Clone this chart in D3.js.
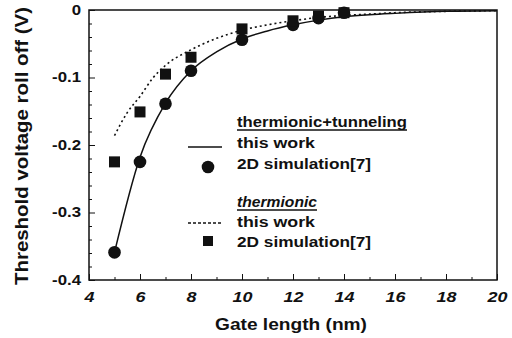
<!DOCTYPE html>
<html><head><meta charset="utf-8">
<script src="https://cdn.jsdelivr.net/npm/d3@7"></script>
<style>body{margin:0;background:#fff}svg{display:block}text{font-family:"Liberation Sans",Arial,sans-serif;font-weight:bold;fill:#111}</style>
</head><body><svg id="c" width="512" height="338"></svg>
<script>
const xTicks = [4,6,8,10,12,14,16,18,20];
const yTicks = [0,-0.1,-0.2,-0.3,-0.4];
const yTickLabels = ["0","-0.1","-0.2","-0.3","-0.4"];
// 2D simulation, thermionic+tunneling (circles)
const simTTx = [5,6,7,8,10,12,13,14];
const simTTy = [-0.359,-0.225,-0.139,-0.090,-0.044,-0.022,-0.012,-0.004];
// 2D simulation, thermionic (squares)
const simThx = [5,6,7,8,10,12,13,14];
const simThy = [-0.225,-0.151,-0.095,-0.070,-0.028,-0.016,-0.009,-0.004];
// this work, thermionic+tunneling (solid)
const modelTTx = [5,6,7,8,9,10,11,12,13,14,15,16,18,20];
const modelTTy = [-0.359,-0.218,-0.138,-0.090,-0.062,-0.043,-0.031,-0.022,-0.015,-0.010,-0.007,-0.005,-0.002,-0.001];
// this work, thermionic (dotted)
const modelThx = [5,5.5,6,6.5,7,8,9,10,11,12,13,14,15,16,18,20];
const modelThy = [-0.186,-0.152,-0.128,-0.101,-0.082,-0.059,-0.042,-0.030,-0.022,-0.016,-0.011,-0.008,-0.006,-0.004,-0.002,-0.001];

const svg = d3.select("#c");
const L=89,R=497,T=10,B=280;
const x = d3.scaleLinear().domain([4,20]).range([L,R]);
const y = d3.scaleLinear().domain([-0.4,0]).range([B,T]);
const g = svg.append("g");
function stretch(sel,k){ sel.each(function(){ const w=this.getComputedTextLength(); d3.select(this).attr("textLength",w*k).attr("lengthAdjust","spacingAndGlyphs"); }); }

// frame
g.append("rect").attr("x",L).attr("y",T).attr("width",R-L).attr("height",B-T)
 .attr("fill","none").attr("stroke","#111").attr("stroke-width",1.5);

// ticks (inward)
const xAx = d3.axisBottom(x).tickValues(xTicks).tickSize(-6).tickFormat(d=>d);
const gx = g.append("g").attr("transform",`translate(0,${B})`).call(xAx);
gx.select(".domain").remove();
gx.selectAll("line").attr("stroke","#111");
gx.selectAll("text").attr("y",22).attr("dy",null).attr("font-size",14).style("font-style","italic").attr("fill","#111");
const gxm = g.append("g").attr("transform",`translate(0,${B})`).call(d3.axisBottom(x).tickValues(d3.range(5,20,2)).tickSize(-3).tickFormat(""));
gxm.select(".domain").remove(); gxm.selectAll("line").attr("stroke","#111");

const yAx = d3.axisLeft(y).tickValues(yTicks).tickSize(-6).tickFormat((d,i)=>yTickLabels[i]);
const gy = g.append("g").attr("transform",`translate(${L},0)`).call(yAx);
gy.select(".domain").remove();
gy.selectAll("line").attr("stroke","#111");
gy.selectAll("text").attr("x",-8).attr("font-size",14).attr("fill","#111");
const gym = g.append("g").attr("transform",`translate(${L},0)`).call(d3.axisLeft(y).tickValues(d3.range(-0.38,0,0.02).filter(v=>Math.abs(v*10-Math.round(v*10))>0.01)).tickSize(-3).tickFormat(""));
gym.select(".domain").remove(); gym.selectAll("line").attr("stroke","#111");
[gx,gy].forEach(a=>a.selectAll("text").attr("font-family","Liberation Sans, Arial, sans-serif").attr("font-weight","bold"));
stretch(gx.selectAll("text"),1.28);
stretch(gy.selectAll("text"),1.2);

// lines
const line = d3.line().x(d=>x(d[0])).y(d=>y(d[1])).curve(d3.curveMonotoneX);
g.append("path").datum(modelTTx.map((v,i)=>[v,modelTTy[i]])).attr("d",line)
 .attr("fill","none").attr("stroke","#111").attr("stroke-width",1.5);
g.append("path").datum(modelThx.map((v,i)=>[v,modelThy[i]])).attr("d",line)
 .attr("fill","none").attr("stroke","#111").attr("stroke-width",1.6).attr("stroke-dasharray","2,3");

// markers
g.selectAll("circle.sim").data(simTTx.map((v,i)=>[v,simTTy[i]])).join("circle")
 .attr("cx",d=>x(d[0])).attr("cy",d=>y(d[1])).attr("r",6.3).attr("fill","#111");
g.selectAll("rect.sim").data(simThx.map((v,i)=>[v,simThy[i]])).join("rect")
 .attr("x",d=>x(d[0])-5.5).attr("y",d=>y(d[1])-5.5).attr("width",11).attr("height",11).attr("fill","#111");

// legend
const lg = g.append("g");
function txt(s,yy,len,fs,italic){
  const t = lg.append("text").attr("x",237).attr("y",yy).attr("font-size",fs).attr("textLength",len).attr("lengthAdjust","spacingAndGlyphs").text(s);
  if(italic) t.style("font-style","italic");
  return t;
}
function head(s,yy,len,italic){
  txt(s,yy,len,14,italic);
  lg.append("line").attr("x1",237).attr("x2",237+len).attr("y1",yy+3).attr("y2",yy+3).attr("stroke","#111").attr("stroke-width",1.3);
}
head("thermionic+tunneling",127,170,false);
lg.append("line").attr("x1",188).attr("x2",222).attr("y1",147).attr("y2",147).attr("stroke","#111").attr("stroke-width",1.5);
txt("this work",148,78,14,false);
lg.append("circle").attr("cx",208).attr("cy",167).attr("r",6.3).attr("fill","#111");
txt("2D simulation[7]",169,134,15.5,false);
head("thermionic",207,80,true);
lg.append("line").attr("x1",188).attr("x2",221).attr("y1",223).attr("y2",223).attr("stroke","#111").attr("stroke-width",1.5).attr("stroke-dasharray","3,2");
txt("this work",227,78,14,false);
lg.append("rect").attr("x",203).attr("y",236).attr("width",10).attr("height",10).attr("fill","#111");
txt("2D simulation[7]",247,134,15.5,false);

// axis titles
svg.append("text").attr("x",291).attr("y",330).attr("text-anchor","middle").attr("font-size",17).attr("textLength",152).attr("lengthAdjust","spacingAndGlyphs").text("Gate length (nm)");
svg.append("text").attr("transform",`translate(28,146) rotate(-90)`).attr("text-anchor","middle").attr("font-size",18).attr("textLength",278).attr("lengthAdjust","spacingAndGlyphs").text("Threshold voltage roll off (V)");
</script></body></html>
